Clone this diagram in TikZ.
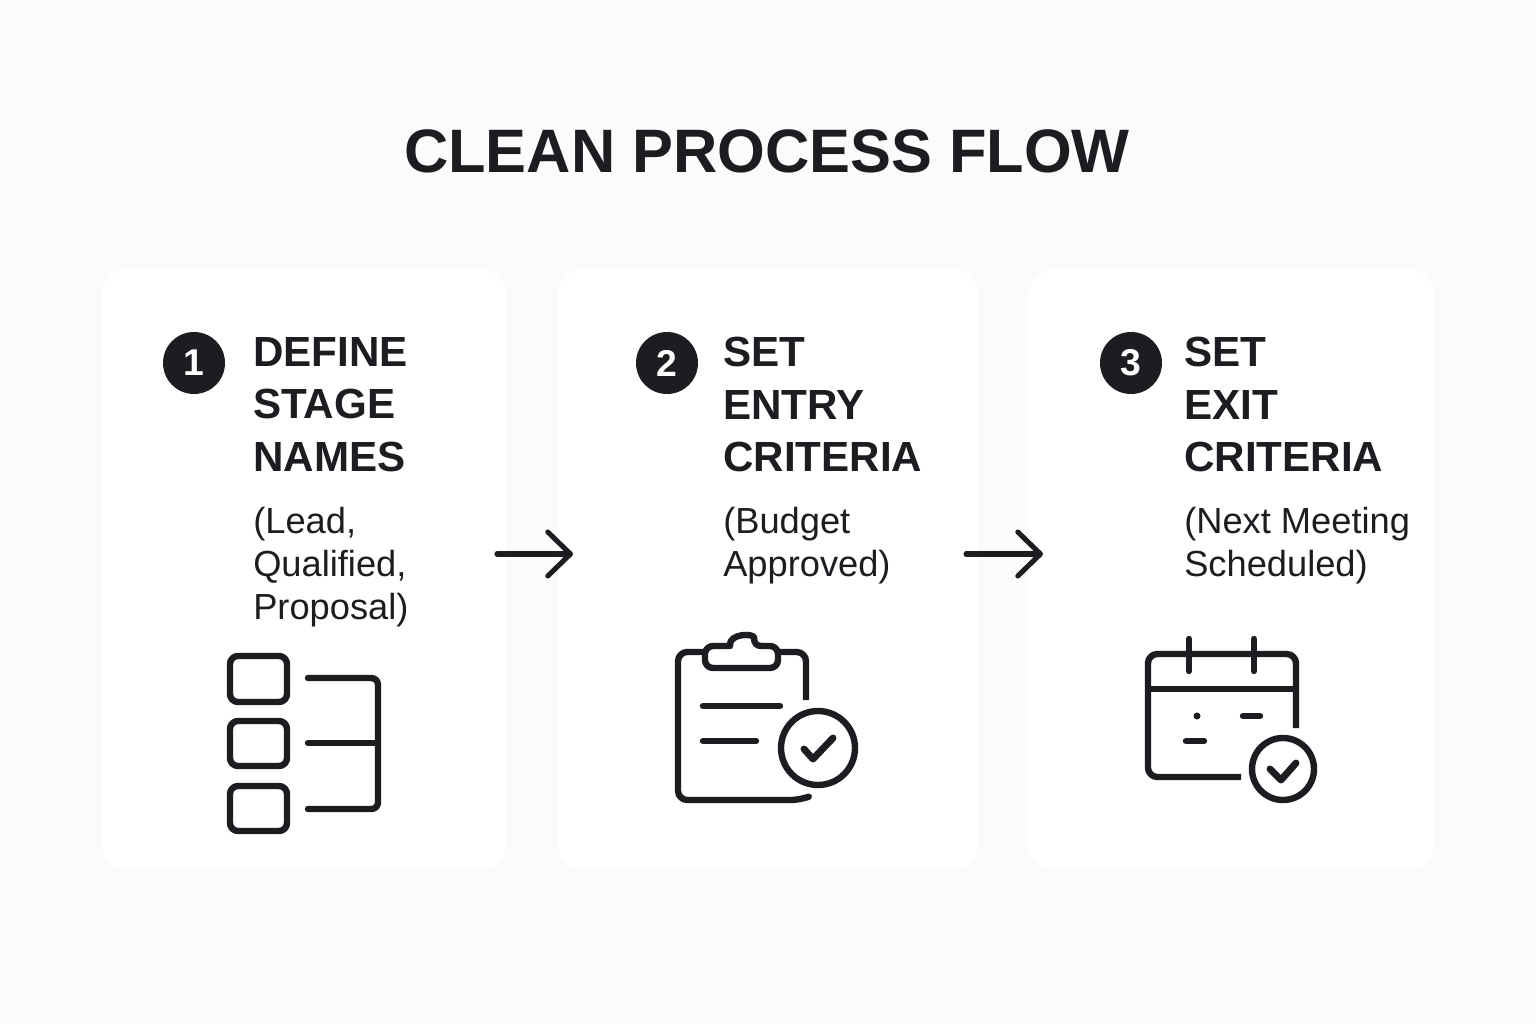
\documentclass[tikz,border=0pt]{standalone}
\usepackage{fontspec}
\setmainfont{Liberation Sans}
\usetikzlibrary{arrows.meta}
\definecolor{inkdark}{HTML}{1B1D21}
\definecolor{pagegrey}{HTML}{FBFBFB}
\tikzset{
  card/.style={fill=white,rounded corners=18pt},
  titletext/.style={anchor=base,text=inkdark,font=\fontsize{46}{50}\selectfont\bfseries},
  headtext/.style={anchor=north west,align=left,inner sep=0pt,text=inkdark,font=\fontsize{31.6}{39.4}\selectfont\bfseries},
  subtext/.style={anchor=north west,align=left,inner sep=0pt,text=inkdark,font=\fontsize{27.2}{32.2}\selectfont},
  badge/.style={circle,fill=inkdark,text=white,minimum size=46.5pt,inner sep=0pt,font=\fontsize{28}{30}\selectfont\bfseries},
  iconline/.style={draw=inkdark,line width=4.8pt,line cap=round,line join=round},
  flowarrow/.style={draw=inkdark,line width=3.8pt,line cap=round,-{Straight Barb[length=17pt,width=33pt,round]}},
}
\begin{document}
\begin{tikzpicture}[x=0.75pt,y=0.75pt,yscale=-1,xscale=1]
    %Shape: Rectangle (page)
    \fill [pagegrey] (0,0) rectangle (1536,1024);
    \useasboundingbox (0,0) rectangle (1536,1024);

    %Shape: Rectangle (cards)
    \fill [card] (102,270) rectangle (506,868);
    \fill [card] (558,270) rectangle (978,868);
    \fill [card] (1029,270) rectangle (1434,868);

    %Title
    \node [titletext] (title) at (767,172) {CLEAN PROCESS FLOW};

    %Badges
    \node [badge] (badgea) at (194,363) {1};
    \node [badge] (badgeb) at (667,363) {2};
    \node [badge] (badgec) at (1131,363) {3};

    %Headings
    \node [headtext] (heada) at (253,337) {DEFINE\\STAGE\\NAMES};
    \node [headtext] (headb) at (723,337) {SET\\ENTRY\\CRITERIA};
    \node [headtext] (headc) at (1184,337) {SET\\EXIT\\CRITERIA};

    %Examples
    \node [subtext] (suba) at (253,507) {(Lead,\\Qualified,\\Proposal)};
    \node [subtext] (subb) at (723,507) {(Budget\\Approved)};
    \node [subtext] (subc) at (1184,507) {(Next Meeting\\Scheduled)};

    %Straight Lines (arrows)
    \coordinate (arrowastart) at (497,554);
    \coordinate (arrowaend) at (573,554);
    \coordinate (arrowbstart) at (966,554);
    \coordinate (arrowbend) at (1043,554);
    \draw [flowarrow] (arrowastart) -- (arrowaend);
    \draw [flowarrow] (arrowbstart) -- (arrowbend);

    %Shape: stage list icon
    \draw [iconline,rounded corners=6pt] (230,656) rectangle (287,702);
    \draw [iconline,rounded corners=6pt] (230,721) rectangle (287,766);
    \draw [iconline,rounded corners=6pt] (230,786) rectangle (287,831);
    \draw [iconline,rounded corners=5pt] (308,678) -- (378,678) -- (378,809) -- (308,809);
    \draw [iconline] (308,743) -- (378,743);

    %Shape: clipboard icon
    \draw [iconline,rounded corners=7pt,line cap=butt] (704,652) -- (678,652) -- (678,800) -- (800,800) -- (808,797);
    \draw [iconline,rounded corners=7pt,line cap=butt] (778,652) -- (806,652) -- (806,700);
    \draw [iconline,rounded corners=6pt] (730,646) -- (705,646) -- (705,668) -- (778,668) -- (778,646) -- (753,646) .. controls (755,633) and (728,633) .. (730,646);
    \draw [iconline] (703,706) -- (780,706);
    \draw [iconline] (703,741) -- (756,741);
    \draw [iconline] (818,748) circle [radius=37];
    \draw [iconline,line width=5.2pt] (804,749) -- (813,759) -- (833,738);

    %Shape: calendar icon
    \draw [iconline,rounded corners=7pt,line cap=butt] (1241,777) -- (1148,777) -- (1148,654) -- (1296,654) -- (1296,728);
    \draw [iconline,line cap=butt] (1148,689) -- (1296,689);
    \draw [iconline] (1189,639) -- (1189,671);
    \draw [iconline] (1254,639) -- (1254,671);
    \fill [inkdark] (1197,716) circle [radius=3.5];
    \draw [iconline] (1243,716) -- (1260,716);
    \draw [iconline] (1186,741) -- (1204,741);
    \draw [iconline] (1283,769) circle [radius=31];
    \draw [iconline,line width=5.2pt] (1270,769) -- (1281,780) -- (1296,763);
\end{tikzpicture}
\end{document}
